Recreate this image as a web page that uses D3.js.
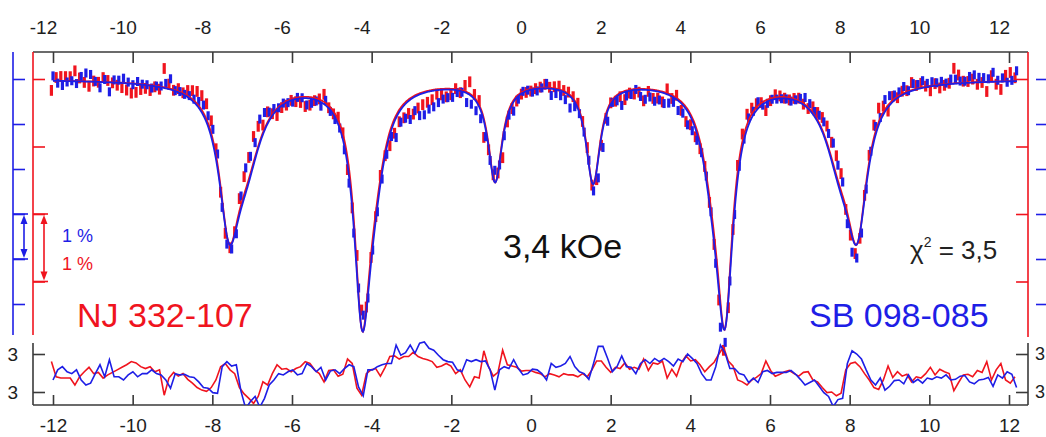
<!DOCTYPE html>
<html>
<head>
<meta charset="utf-8">
<script src="https://cdn.jsdelivr.net/npm/d3@7"></script>
<style>
  html, body { margin: 0; padding: 0; background: #fff; }
  svg { display: block; }
</style>
</head>
<body>
<svg id="chart" width="1046" height="437"></svg>
<script>
// ---- velocity axis (mm/s) ----
const tickValues = [-12, -10, -8, -6, -4, -2, 0, 2, 4, 6, 8, 10, 12];
const vStart = -12.0;          // first channel velocity
const vStep = 0.118;           // channel width
const channelCount = 206;
const redShift = -0.04;        // NJ channels sit slightly left of SB channels

// ---- transmission axes (%), ticks without labels ----
const blueTicks = [100, 99, 98, 97, 96, 95];
const redTicks = [100, 99, 98, 97];
const residTicks = [3, -3];

// ---- sextet fit parameters ----
const linePos    = [-7.58, -4.24, -0.90, 1.56, 4.87, 8.19];
const tailShift  = [0.42, 0.28, 0, 0, -0.28, -0.42];   // inward low-field shoulder
const tailWeight = [0.35, 0.25, 0, 0, 0.25, 0.35];
const tailWidth  = [0.48, 0.36, 0.20, 0.20, 0.36, 0.48];
const blueDepth  = [3.64, 5.53, 2.20, 2.24, 5.49, 3.64];  // % absorption at line minima
const redDepth   = [2.43, 3.69, 1.47, 1.50, 3.66, 2.43];
const blueWidth  = [0.31, 0.25, 0.22, 0.22, 0.25, 0.31];  // HWHM, mm/s
const redWidth   = [0.29, 0.23, 0.21, 0.21, 0.23, 0.29];
const blueSigma = 0.10;   // % per channel
const redSigma  = 0.08;

// ---- normalised residuals per channel ----
const blueResid = [
  -1.1, 0.5, 1.0, 0.2, -0.1, 0.5, -1.1, -1.9, -1.6, -0.1,
  1.3, -0.6, 2.1, -0.6, -0.6, -1.1, -0.3, 0.2, -0.6, -0.1,
  -0.1, 0.5, -0.1, -0.3, -1.1, -2.4, -0.1, -0.3, -0.2, -0.6,
  -0.7, -1.4, -2.3, -2.4, -3.1, -3.2, 1.0, 1.8, 1.1, 1.3,
  -2.9, -5.6, -4.5, -3.7, -5.4, -4.0, -1.9, -1.1, -0.1, -0.3,
  0.2, 0.5, -0.3, -0.1, 1.5, 1.0, 0.2, 0.9, -1.1, 0.3,
  0.5, -0.1, 0.7, 1.3, 1.0, -2.2, -3.6, 0.5, 0.5, 1.0,
  1.3, 1.5, 1.5, 4.4, 2.8, 3.2, 4.4, 3.1, 4.7, 4.9,
  3.9, 3.6, 2.8, 2.1, 1.8, 1.7, 0.5, 0.2, 2.1, 1.8,
  2.1, 1.8, 1.9, 0.5, -2.7, 0.5, 1.0, 0.7, 2.1, 0.7,
  -0.3, -0.1, 0.6, 0.5, -0.1, -1.1, 1.5, 0.9, 1.1, 1.5,
  2.6, 1.0, 0.2, -0.1, -1.0, 1.5, 4.2, 4.2, 2.3, 0.2,
  1.0, 2.7, 1.0, 0.9, -0.1, 1.5, 2.1, 1.5, 2.3, 1.8,
  2.3, 1.8, 1.1, 2.2, 1.8, 3.0, 2.3, 1.5, -0.1, -1.1,
  -1.1, 1.0, 4.4, 3.1, 0.7, 0.7, -0.1, -0.3, -1.5, -0.8,
  -1.5, 0.2, 0.4, -0.1, 0.1, 0.1, 0.1, 0.4, -0.2, -1.0,
  -1.9, -1.5, -1.1, -2.1, -3.1, -3.7, -5.3, -4.2, -4.0, 1.5,
  3.5, 3.0, 2.2, 0.5, -1.1, -1.9, -0.8, -2.7, -2.1, -1.2,
  -1.1, -1.7, -0.3, -1.5, -1.0, -1.6, -0.8, -1.0, -0.6, -0.8,
  -0.3, -1.1, -1.0, -0.5, -0.4, -1.4, -1.7, -1.1, -1.0, -0.7,
  -2.1, -0.3, -0.8, 0.2, -0.2, -2.3
];
const redResid = [
  1.8, -0.6, -0.8, -0.8, -0.8, -1.9, -0.6, 0.2, 0.9, -0.1,
  0.1, -0.8, -0.3, 0.1, 0.5, 0.9, 1.3, 1.8, 1.6, 1.0,
  0.7, 1.0, 0.2, 0.5, -3.5, -0.8, 0.1, -0.5, -0.1, -1.0,
  -1.6, -2.3, -2.7, -2.9, -2.3, -1.1, 1.0, 1.5, 0.5, -0.1,
  -2.3, -3.3, -4.0, -4.8, -3.7, -1.4, -1.9, -0.1, 1.3, 0.6,
  0.7, 0.2, 0.7, 1.0, 1.8, 1.5, 0.5, -0.1, -1.4, 0.4,
  0.5, -0.5, -0.2, 2.2, 1.5, -2.4, -3.5, -0.1, 0.5, 0.7,
  -0.5, 0.9, 2.6, 2.7, 2.2, 2.6, 2.6, 3.3, 2.6, 2.3,
  2.1, 1.8, 0.9, 1.1, 1.5, 1.1, -0.1, 0.5, -1.1, -2.2,
  -0.6, -0.8, 3.5, 1.0, -0.5, 0.1, 3.6, 1.3, 1.1, 0.9,
  0.3, 0.4, 0.4, 0.1, -0.1, -0.6, -0.1, -0.3, -0.6, -0.1,
  -0.3, -0.3, -0.6, -0.1, -0.6, 0.5, 1.9, 1.9, 0.9, 0.1,
  0.9, 0.7, 1.6, 0.6, 0.9, 0.6, 2.2, 0.4, 1.6, 1.4,
  1.9, -0.8, 0.6, -0.5, 1.6, 2.7, 1.9, 2.1, 1.3, 0.2,
  1.0, 1.7, 3.0, 4.1, 1.9, 1.1, -1.1, -1.4, -1.9, -1.1,
  -0.7, -0.1, 1.9, 0.4, -0.5, -0.2, 0.2, 0.4, -0.1, -0.5,
  0.1, 0.2, -1.1, -1.4, -2.3, -3.1, -3.0, -3.6, -3.2, 0.5,
  1.5, 1.7, 1.0, -0.1, -1.1, -2.3, -2.6, -1.1, 1.1, -0.7,
  0.2, -0.5, -0.2, -1.4, -0.6, -0.8, -0.1, 0.9, -0.3, 0.6,
  0.2, -0.1, -2.8, -1.5, -0.3, -0.2, -0.6, 0.4, 0.1, 1.8,
  -1.1, 0.5, 1.5, -1.1, -1.6, -0.6
];

// ---- styling ----
const FONT = "'Liberation Sans', Arial, Helvetica, sans-serif";
const RED = '#f0141e';
const BLUE = '#1e1ee6';
const INK = '#3a3a3a';

const svg = d3.select('#chart');

// ---- scales ----
const x = d3.scaleLinear().domain([-12, 12]).range([53, 1009]);
const yBlue = d3.scaleLinear().domain([100, 95]).range([79, 304]);
const yRed = d3.scaleLinear().domain([100, 97]).range([79, 281.5]);
const yRes = d3.scaleLinear().domain([3, -3]).range([354, 392]);

// ---- fit model: six lines, each a main Lorentzian plus an inward shoulder ----
function makeFit(depth, width) {
  const lines = linePos.map((p, k) => {
    const g = width[k], s = tailShift[k], w = tailWeight[k], gt = tailWidth[k];
    const f = v => (1 - w) / (1 + ((v - p) / g) ** 2) + w / (1 + ((v - p - s) / gt) ** 2);
    const peak = d3.max(d3.range(p - 1.5, p + 1.5, 0.002), f);
    return v => depth[k] * f(v) / peak;
  });
  return v => 100 - d3.sum(lines, L => L(v));
}
const blueFit = makeFit(blueDepth, blueWidth);
const redFit = makeFit(redDepth, redWidth);

const blueVel = d3.range(channelCount).map(i => vStart + i * vStep);
const redVel = blueVel.map(v => v + redShift);

const blueData = blueVel.map((v, i) => ({ v, t: blueFit(v) - blueResid[i] * blueSigma, r: blueResid[i] }));
const redData = redVel.map((v, i) => ({ v, t: redFit(v) - redResid[i] * redSigma, r: redResid[i] }));

// ---- frame and axes ----
const frame = svg.append('g').attr('stroke', INK).attr('stroke-width', 1.6).attr('fill', 'none');
frame.append('line').attr('x1', 33).attr('x2', 1028).attr('y1', 52).attr('y2', 52);
frame.append('line').attr('x1', 33).attr('x2', 1028).attr('y1', 405).attr('y2', 405);
frame.append('line').attr('x1', 33).attr('x2', 33).attr('y1', 343).attr('y2', 405);
frame.append('line').attr('x1', 1028).attr('x2', 1028).attr('y1', 343).attr('y2', 405);

function styleAxis(g, color, size) {
  g.attr('font-family', FONT).attr('font-size', size);
  g.selectAll('.tick line').attr('stroke', color).attr('stroke-width', 1.6);
  g.selectAll('.tick text').attr('fill', '#1e1e1e');
  g.select('.domain').remove();
}

// top velocity axis (labels sit a little left of their ticks)
const topAxis = svg.append('g').attr('transform', 'translate(0,52)')
  .call(d3.axisTop(x).tickValues(tickValues).tickSizeInner(-11).tickSizeOuter(0)
    .tickPadding(18).tickFormat(d => String(d)));
styleAxis(topAxis, INK, 19);
topAxis.selectAll('.tick text').attr('dx', -10);

// bottom velocity axis
const botAxis = svg.append('g').attr('transform', 'translate(0,405)')
  .call(d3.axisBottom(x).tickValues(tickValues).tickSizeInner(-10).tickSizeOuter(0)
    .tickPadding(13.5).tickFormat(d => String(d)));
styleAxis(botAxis, INK, 19);

// transmission axes: blue outer, red inner, mirrored on the right
function vAxis(axisFn, scale, ticks, xPos, color, y0, y1) {
  const g = svg.append('g').attr('transform', `translate(${xPos},0)`)
    .call(axisFn(scale).tickValues(ticks).tickSizeInner(12).tickSizeOuter(0).tickFormat(''));
  styleAxis(g, color, 10);
  g.append('line').attr('x1', 0).attr('x2', 0).attr('y1', y0).attr('y2', y1)
    .attr('stroke', color).attr('stroke-width', 1.6);
  return g;
}
vAxis(d3.axisRight, yBlue, blueTicks, 13, BLUE, 52, 335);
vAxis(d3.axisRight, yRed, redTicks, 33, RED, 52, 335);
vAxis(d3.axisLeft, yRed, redTicks, 1028, RED, 52, 337);
vAxis(d3.axisLeft, yBlue, blueTicks, 1048, BLUE, 52, 337);

// residual axes
const resL = svg.append('g').attr('transform', 'translate(33,0)')
  .call(d3.axisLeft(yRes).tickValues(residTicks).tickSizeInner(-12).tickSizeOuter(0)
    .tickPadding(15).tickFormat(d => String(Math.abs(d))));
styleAxis(resL, INK, 19);
const resR = svg.append('g').attr('transform', 'translate(1028,0)')
  .call(d3.axisRight(yRes).tickValues(residTicks).tickSizeInner(-12).tickSizeOuter(0)
    .tickPadding(7).tickFormat(d => String(Math.abs(d))));
styleAxis(resR, INK, 18);

// ---- 1 % scale arrows ----
function scaleArrow(xPos, yTop, yBot, x0, x1, color) {
  const g = svg.append('g').attr('stroke', color).attr('fill', color).attr('stroke-width', 1.6);
  g.append('line').attr('x1', x0).attr('x2', x1).attr('y1', yTop).attr('y2', yTop);
  g.append('line').attr('x1', x0).attr('x2', x1).attr('y1', yBot).attr('y2', yBot);
  g.append('line').attr('x1', xPos).attr('x2', xPos).attr('y1', yTop + 6).attr('y2', yBot - 6);
  g.append('path').attr('stroke', 'none')
    .attr('d', `M${xPos},${yTop + 1}L${xPos - 3.5},${yTop + 10}L${xPos + 3.5},${yTop + 10}Z`);
  g.append('path').attr('stroke', 'none')
    .attr('d', `M${xPos},${yBot - 1}L${xPos - 3.5},${yBot - 10}L${xPos + 3.5},${yBot - 10}Z`);
}
scaleArrow(24, yBlue(97), yBlue(96), 13, 28, BLUE);
scaleArrow(44, yRed(98), yRed(97), 33, 48, RED);

// ---- data error bars ----
function bars(data, scale, sigma, color) {
  svg.append('g').attr('fill', color)
    .selectAll('rect').data(data).join('rect')
    .attr('x', d => x(d.v) - 1.6)
    .attr('width', 3.2)
    .attr('y', d => scale(d.t + sigma))
    .attr('height', d => scale(d.t - sigma) - scale(d.t + sigma));
}
bars(redData, yRed, redSigma, RED);
bars(blueData, yBlue, blueSigma, BLUE);

// ---- fit curves ----
const vGrid = d3.range(-12.0, 12.22, 0.02);
svg.append('path').datum(vGrid)
  .attr('fill', 'none').attr('stroke', RED).attr('stroke-width', 1.8)
  .attr('d', d3.line().x(v => x(v)).y(v => yRed(redFit(v))));
svg.append('path').datum(vGrid)
  .attr('fill', 'none').attr('stroke', BLUE).attr('stroke-width', 1.8)
  .attr('d', d3.line().x(v => x(v)).y(v => yBlue(blueFit(v))));

// ---- residuals ----
svg.append('clipPath').attr('id', 'resClip')
  .append('rect').attr('x', 33).attr('y', 336).attr('width', 995).attr('height', 69);
const resG = svg.append('g').attr('clip-path', 'url(#resClip)');
const resLine = d3.line().x(d => x(d.v)).y(d => yRes(d.r));
resG.append('path').datum(redData).attr('fill', 'none').attr('stroke', RED)
  .attr('stroke-width', 1.6).attr('d', resLine);
resG.append('path').datum(blueData).attr('fill', 'none').attr('stroke', BLUE)
  .attr('stroke-width', 1.6).attr('d', resLine);

// ---- labels ----
function label(txt, xPos, yPos, size, color) {
  return svg.append('text').attr('x', xPos).attr('y', yPos)
    .attr('font-family', FONT).attr('font-size', size).attr('fill', color).text(txt);
}
label('1 %', 62, 242, 18, BLUE);
label('1 %', 62, 270, 18, RED);
label('NJ 332-107', 77, 327, 34, RED);
label('SB 098-085', 809, 327, 34, BLUE);
label('3,4 kOe', 503, 258, 34, '#111');

const chi = svg.append('text').attr('x', 910).attr('y', 259)
  .attr('font-family', FONT).attr('font-size', 26).attr('fill', '#222');
chi.append('tspan').text('χ');
chi.append('tspan').attr('dy', -12).attr('font-size', 14).text('2');
chi.append('tspan').attr('dy', 12).text(' = 3,5');
</script>
</body>
</html>
